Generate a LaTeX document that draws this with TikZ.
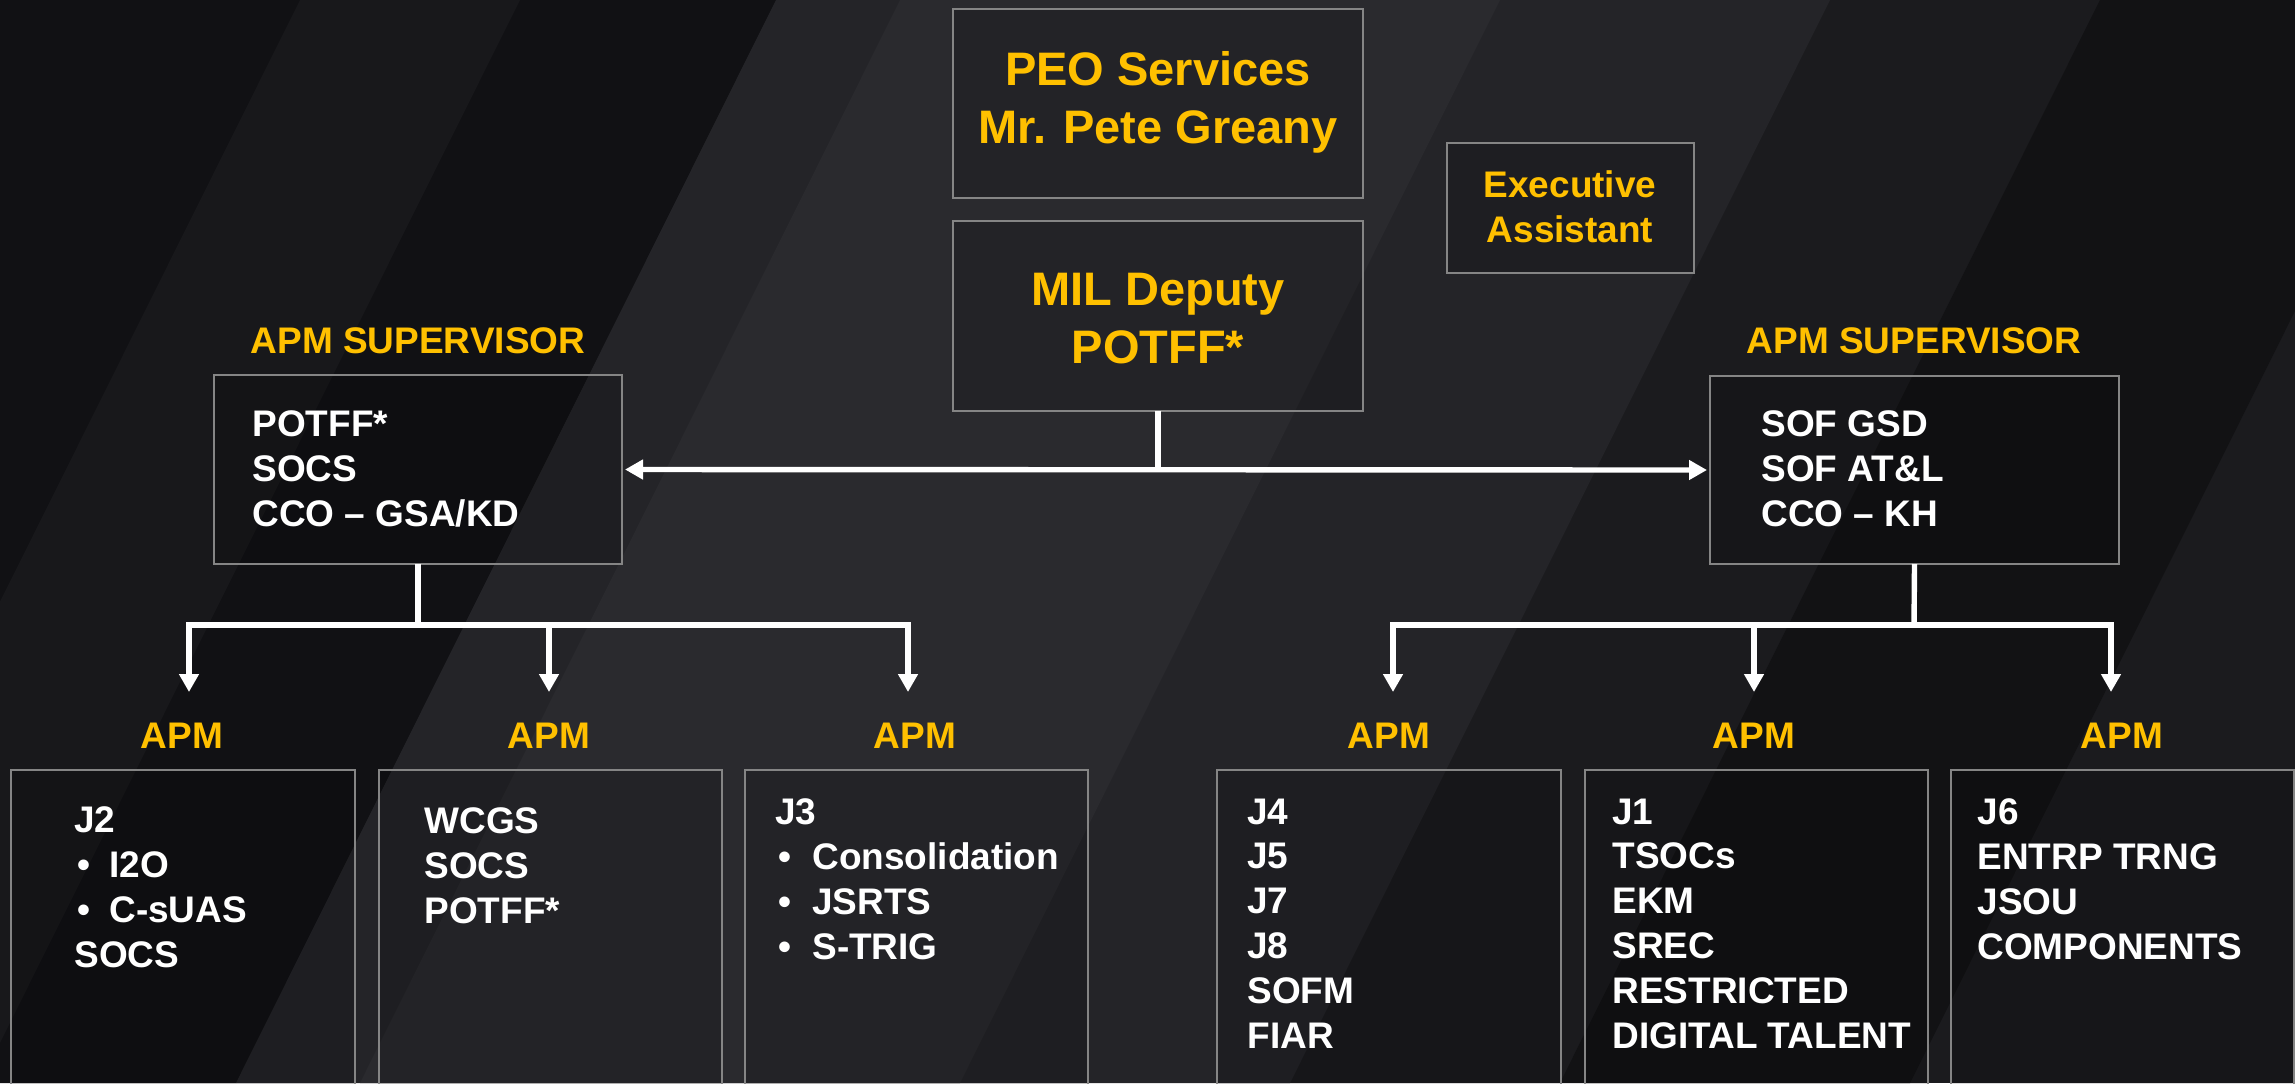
\documentclass[tikz,border=0pt]{standalone}
\usepackage{fontspec}
\setmainfont{Liberation Sans}
\usetikzlibrary{arrows.meta}
\definecolor{gold}{HTML}{FFC000}
\definecolor{frame}{HTML}{858585}
\definecolor{bgA}{HTML}{111114}
\definecolor{bgB}{HTML}{18181B}
\definecolor{bgC}{HTML}{242428}
\definecolor{bgD}{HTML}{2A2A2E}
\definecolor{bgE}{HTML}{1B1B1E}
\definecolor{bgF}{HTML}{121214}
\newcommand\bgband[3]{\fill[#3] (#1,0) -- (#2,0) -- ++(-540,1083) -- ++({#1-#2},0) -- cycle;}
\begin{document}
\begin{tikzpicture}[x=0.5pt,y=-0.5pt,
  box/.style={draw=frame, line width=1.3pt, fill=black, fill opacity=0.15, inner sep=0pt, outer sep=0pt},
  bigtxt/.style={text=gold, font=\bfseries\fontsize{23.5pt}{29pt}\selectfont, align=center, inner sep=0pt, anchor=base},
  goldtxt/.style={text=gold, font=\bfseries\fontsize{18.5pt}{22.5pt}\selectfont, align=center, inner sep=0pt, anchor=base},
  whitetxt/.style={text=white, font=\bfseries\fontsize{18.5pt}{22.4pt}\selectfont, align=left, inner sep=0pt, anchor=base west},
  conn/.style={draw=white, line width=2.7pt},
  tip/.tip={Triangle[width=9.5pt,length=9pt]}]
\useasboundingbox (0,0) rectangle (2295,1083);
\clip (0,0) rectangle (2295,1083);
% background
\fill[bgE] (0,0) rectangle (2295,1083);
\bgband{-600}{776}{bgA}
\bgband{300}{520}{bgB}
\bgband{776}{1830}{bgC}
\bgband{900}{1500}{bgD}
\bgband{2100}{2450}{bgF}
% boxes
\node[box, minimum width=205pt, minimum height=94.5pt] (peo) at (1158,103.5) {};
\node[box, minimum width=205pt, minimum height=95pt] (mil) at (1158,316) {};
\node[box, minimum width=123.5pt, minimum height=65pt] (exec) at (1570.5,208) {};
\node[box, minimum width=204pt, minimum height=94.5pt] (lsup) at (418,469.5) {};
\node[box, minimum width=204.5pt, minimum height=94pt] (rsup) at (1914.5,470) {};
\node[box, minimum width=172pt, minimum height=165pt] (b1) at (183,935) {};
\node[box, minimum width=171.5pt, minimum height=165pt] (b2) at (550.5,935) {};
\node[box, minimum width=171.5pt, minimum height=165pt] (b3) at (916.5,935) {};
\node[box, minimum width=172pt, minimum height=165pt] (b4) at (1389,935) {};
\node[box, minimum width=171.5pt, minimum height=165pt] (b5) at (1756.5,935) {};
\node[box, minimum width=171.5pt, minimum height=165pt] (b6) at (2122.5,935) {};
% texts (multi-line nodes: base anchor = last line)
\node[bigtxt] (peot) at (1158,143) {PEO Services\\Mr. Pete Greany};
\node[bigtxt] (milt) at (1158,363) {MIL Deputy\\POTFF*};
\node[goldtxt] (exect) at (1570,242) {Executive\\Assistant};
\node[goldtxt] (lsupl) at (418,353) {APM SUPERVISOR};
\node[goldtxt] (rsupl) at (1914,353) {APM SUPERVISOR};
\node[whitetxt] (lsupt) at (252,526) {POTFF*\\SOCS\\CCO – GSA/KD};
\node[whitetxt] (rsupt) at (1761,526) {SOF GSD\\SOF AT\&L\\CCO – KH};
\node[goldtxt] (apm1) at (182,748) {APM};
\node[goldtxt] (apm2) at (549,748) {APM};
\node[goldtxt] (apm3) at (915,748) {APM};
\node[goldtxt] (apm4) at (1389,748) {APM};
\node[goldtxt] (apm5) at (1754,748) {APM};
\node[goldtxt] (apm6) at (2122,748) {APM};
\node[whitetxt] (b1t) at (74,967) {J2\\\makebox[17.5pt][l]{\hspace{1.5pt}•}I2O\\\makebox[17.5pt][l]{\hspace{1.5pt}•}C-sUAS\\SOCS};
\node[whitetxt] (b2t) at (424,923) {WCGS\\SOCS\\POTFF*};
\node[whitetxt] (b3t) at (775,959) {J3\\\makebox[18.5pt][l]{\hspace{1.5pt}•}Consolidation\\\makebox[18.5pt][l]{\hspace{1.5pt}•}JSRTS\\\makebox[18.5pt][l]{\hspace{1.5pt}•}S-TRIG};
\node[whitetxt] (b4t) at (1247,1048) {J4\\J5\\J7\\J8\\SOFM\\FIAR};
\node[whitetxt] (b5t) at (1612,1048) {J1\\TSOCs\\EKM\\SREC\\RESTRICTED\\DIGITAL TALENT};
\node[whitetxt] (b6t) at (1977,959) {J6\\ENTRP TRNG\\JSOU\\COMPONENTS};
% connectors
\draw[conn, tip-tip, shorten <=1.5pt, shorten >=1.5pt] (lsup.east) -- (rsup.west);
\draw[conn] (mil.south) -- (mil.south |- lsup.east);
\coordinate (lj) at (418,625);
\coordinate (l1) at (189,625);
\coordinate (l3) at (908,625);
\coordinate (lt1) at (189,692);
\coordinate (lt2) at (549,692);
\coordinate (lt3) at (908,692);
\draw[conn] (lsup.south) -- (lj);
\draw[conn, tip-tip] (lt1) -- (l1) -- (l3) -- (lt3);
\draw[conn, -tip] (lt2 |- lj) -- (lt2);
\coordinate (rj) at (1914,625);
\coordinate (r1) at (1393,625);
\coordinate (r3) at (2111,625);
\coordinate (rt1) at (1393,692);
\coordinate (rt2) at (1754,692);
\coordinate (rt3) at (2111,692);
\draw[conn] (rsup.south) -- (rj);
\draw[conn, tip-tip] (rt1) -- (r1) -- (r3) -- (rt3);
\draw[conn, -tip] (rt2 |- rj) -- (rt2);
\end{tikzpicture}
\end{document}
